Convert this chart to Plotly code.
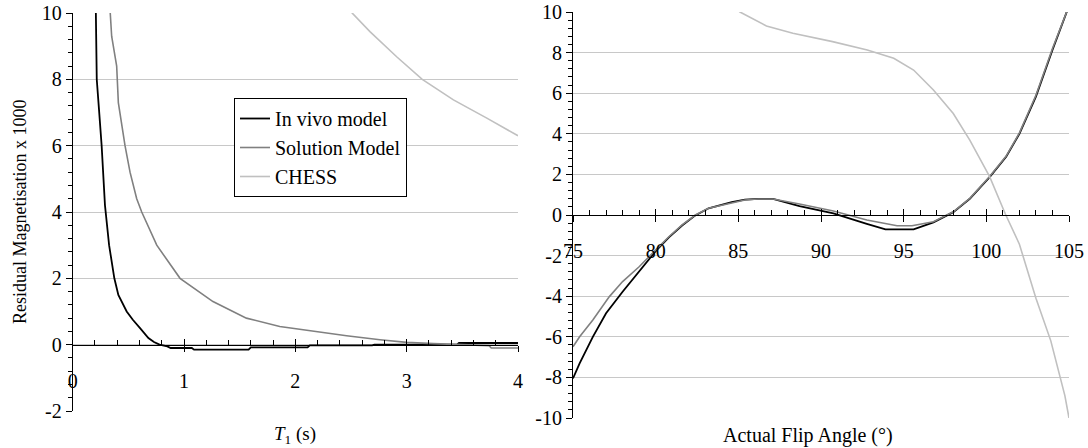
import plotly.graph_objects as go

# ---------------- data: left panel (T1 in s) ----------------
t1_invivo = [0.20, 0.207, 0.216, 0.236, 0.26, 0.29, 0.327, 0.374, 0.41, 0.485, 0.54, 0.605, 0.68, 0.73,
             0.78, 0.85, 0.88, 1.07, 1.09, 1.58, 1.60, 2.11, 2.13, 2.69, 2.71, 3.45, 3.47, 4.0]
res_invivo = [12.0, 10.0, 8.0, 7.1, 6.0, 4.2, 3.0, 2.0, 1.5, 1.0, 0.75, 0.5, 0.2, 0.08,
              0.0, -0.05, -0.1, -0.1, -0.15, -0.15, -0.08, -0.08, -0.02, -0.02, 0.0, 0.0, 0.05, 0.05]

t1_solution = [0.31, 0.336, 0.35, 0.395, 0.41, 0.47, 0.515, 0.575, 0.62, 0.755, 0.964, 1.26, 1.56, 1.86,
               2.16, 2.46, 2.76, 3.0, 3.24, 3.48, 3.74, 3.76, 4.0]
res_solution = [11.5, 10.0, 9.3, 8.4, 7.3, 6.0, 5.2, 4.4, 4.0, 3.0, 2.0, 1.3, 0.8, 0.55,
                0.4, 0.27, 0.15, 0.07, 0.03, 0.0, -0.03, -0.1, -0.1]

t1_chess = [2.45, 2.51, 2.67, 2.91, 3.14, 3.42, 3.72, 4.0]
res_chess = [10.4, 10.0, 9.44, 8.68, 8.0, 7.38, 6.83, 6.3]

# ---------------- data: right panel (actual flip angle, degrees) ----------------
fa_invivo = [75.0, 75.4, 76.2, 77.0, 78.0, 79.0, 80.0, 80.8, 81.6, 82.4, 83.2, 84.6, 85.4, 86.2, 87.1,
             88.7, 90.75, 92.77, 93.9, 95.6, 96.8, 98.0, 99.0, 100.2, 101.2, 102.0, 103.0, 104.0, 104.87, 105.0]
fa_res_invivo = [-8.05, -7.31, -6.0, -4.84, -3.78, -2.79, -1.78, -1.1, -0.52, -0.02, 0.33, 0.63, 0.76, 0.79, 0.79,
                 0.44, 0.08, -0.44, -0.71, -0.71, -0.36, 0.14, 0.8, 1.87, 2.87, 4.0, 5.83, 8.13, 10.0, 10.3]

fa_solution = [75.0, 75.4, 76.2, 77.2, 78.0, 79.0, 80.0, 80.8, 81.6, 82.4, 83.2, 84.6, 85.4, 86.2, 87.1,
               88.7, 90.75, 92.77, 94.6, 95.5, 96.8, 98.0, 99.0, 100.2, 101.2, 102.0, 103.0, 104.0, 104.85, 105.0]
fa_res_solution = [-6.49, -6.0, -5.17, -4.02, -3.28, -2.55, -1.72, -1.07, -0.49, 0.0, 0.33, 0.61, 0.74, 0.79, 0.79,
                   0.54, 0.2, -0.25, -0.53, -0.53, -0.33, 0.16, 0.82, 1.9, 2.9, 4.05, 5.9, 8.2, 10.0, 10.3]

fa_chess = [84.5, 85.1, 86.7, 88.3, 90.7, 92.8, 94.4, 95.6, 96.8, 98.0, 99.0, 100.2, 101.15, 102.0,
            103.0, 103.9, 104.75, 105.0]
fa_res_chess = [10.4, 10.0, 9.31, 8.95, 8.54, 8.13, 7.72, 7.14, 6.16, 5.0, 3.69, 1.89, 0.05, -1.44,
                -4.1, -6.2, -8.9, -10.0]

series_names = ["In vivo model", "Solution Model", "CHESS"]

# tick labels (hyphen-minus as in the reference)
xL_ticks = [0, 1, 2, 3, 4]
xL_labels = ["0", "1", "2", "3", "4"]
yL_ticks = [-2, 0, 2, 4, 6, 8, 10]
yL_labels = ["-2", "0", "2", "4", "6", "8", "10"]
xR_ticks = [75, 80, 85, 90, 95, 100, 105]
xR_labels = ["75", "80", "85", "90", "95", "100", "105"]
yR_ticks = [-10, -8, -6, -4, -2, 0, 2, 4, 6, 8, 10]
yR_labels = ["-10", "-8", "-6", "-4", "-2", "0", "2", "4", "6", "8", "10"]

x_title_left = "<i>T</i><sub>1</sub> (s)"
x_title_right = "Actual Flip Angle (°)"
y_title = "Residual Magnetisation x 1000"

# ---------------- layout geometry ----------------
W, H = 1088, 448
FONT = "Liberation Serif"
colors = ["#000000", "#808080", "#c0c0c0"]
widths = [1.8, 1.6, 1.6]

xL = [72.7 / W, 518 / W]
xR = [573 / W, 1069 / W]
yL = [1 - 411 / H, 1 - 13 / H]
yR = [1 - 418 / H, 1 - 12 / H]
yL_range = [-2, 10]
yR_range = [-10, 10]
posL = yL[0] + (0 - yL_range[0]) / (yL_range[1] - yL_range[0]) * (yL[1] - yL[0])
posR = yR[0] + (0 - yR_range[0]) / (yR_range[1] - yR_range[0]) * (yR[1] - yR[0])

fig = go.Figure()

left = [(t1_invivo, res_invivo), (t1_solution, res_solution), (t1_chess, res_chess)]
right = [(fa_invivo, fa_res_invivo), (fa_solution, fa_res_solution), (fa_chess, fa_res_chess)]

for i, (xs, ys) in enumerate(left):
    fig.add_trace(go.Scatter(x=xs, y=ys, mode="lines", name=series_names[i],
                             line=dict(color=colors[i], width=widths[i]),
                             xaxis="x", yaxis="y", showlegend=True))
for i, (xs, ys) in enumerate(right):
    fig.add_trace(go.Scatter(x=xs, y=ys, mode="lines", name=series_names[i],
                             line=dict(color=colors[i], width=widths[i]),
                             xaxis="x2", yaxis="y2", showlegend=False))
# invisible helpers so the crossing-tick axes get drawn
fig.add_trace(go.Scatter(x=[None], y=[None], xaxis="x3", yaxis="y", showlegend=False, hoverinfo="skip"))
fig.add_trace(go.Scatter(x=[None], y=[None], xaxis="x4", yaxis="y2", showlegend=False, hoverinfo="skip"))

tickfont = dict(family=FONT, size=20, color="black")

def xaxis_main(domain, rng, pos, tv, tt, mdtick):
    return dict(domain=domain, range=rng, anchor="free", position=pos, automargin=False,
                showline=True, linecolor="black", linewidth=1,
                ticks="inside", ticklen=6, tickwidth=1, tickcolor="black",
                tickmode="array", tickvals=tv, ticktext=tt,
                minor=dict(ticks="inside", ticklen=5, tickwidth=1, tickcolor="black",
                           dtick=mdtick, tick0=rng[0], showgrid=False),
                showgrid=False, zeroline=False, tickfont=tickfont,
                ticklabelstandoff=18, fixedrange=True)

def xaxis_cross(domain, rng, pos, tv, over):
    return dict(domain=domain, range=rng, anchor="free", position=pos, overlaying=over,
                automargin=False,
                showline=False, ticks="outside", ticklen=6, tickwidth=1, tickcolor="black",
                tickmode="array", tickvals=tv, showticklabels=False,
                showgrid=False, zeroline=False, fixedrange=True)

def yaxis(domain, rng, anchor, tv, tt, mdtick):
    return dict(domain=domain, range=rng, anchor=anchor, automargin=False,
                showline=True, linecolor="black", linewidth=1,
                ticks="outside", ticklen=6, tickwidth=1, tickcolor="black",
                tickmode="array", tickvals=tv, ticktext=tt,
                minor=dict(ticks="outside", ticklen=4, tickwidth=1, tickcolor="black",
                           dtick=mdtick, tick0=0, showgrid=False),
                showgrid=True, gridcolor="#c8c8c8", gridwidth=1,
                zeroline=False, tickfont=tickfont, fixedrange=True)

fig.update_layout(
    width=W, height=H,
    margin=dict(l=0, r=0, t=0, b=0, autoexpand=False),
    paper_bgcolor="white", plot_bgcolor="white",
    font=dict(family=FONT, color="black"),
    xaxis=xaxis_main(xL, [0, 4], posL, xL_ticks, xL_labels, 0.2),
    xaxis3=xaxis_cross(xL, [0, 4], posL, xL_ticks, "x"),
    yaxis=yaxis(yL, yL_range, "x", yL_ticks, yL_labels, 0.4),
    xaxis2=xaxis_main(xR, [75, 105], posR, xR_ticks, xR_labels, 1),
    xaxis4=xaxis_cross(xR, [75, 105], posR, xR_ticks, "x2"),
    yaxis2=yaxis(yR, yR_range, "x2", yR_ticks, yR_labels, 0.4),
    legend=dict(x=234 / W, y=1 - 98 / H, xanchor="left", yanchor="top",
                bordercolor="black", borderwidth=1, bgcolor="white",
                font=dict(family=FONT, size=20, color="black"),
                itemwidth=30, tracegroupgap=0),
    showlegend=True,
    annotations=[
        dict(text=y_title, textangle=-90, x=20 / W, y=1 - 212 / H, xref="paper", yref="paper",
             xanchor="center", yanchor="middle",
             showarrow=False, font=dict(family=FONT, size=18, color="black")),
        dict(text=x_title_left, x=295 / W, y=1 - 435 / H, xref="paper", yref="paper",
             xanchor="center", yanchor="middle",
             showarrow=False, font=dict(family=FONT, size=19, color="black")),
        dict(text=x_title_right, x=808 / W, y=1 - 435 / H, xref="paper", yref="paper",
             xanchor="center", yanchor="middle",
             showarrow=False, font=dict(family=FONT, size=20, color="black")),
    ],
)

fig.write_html("out.html")
